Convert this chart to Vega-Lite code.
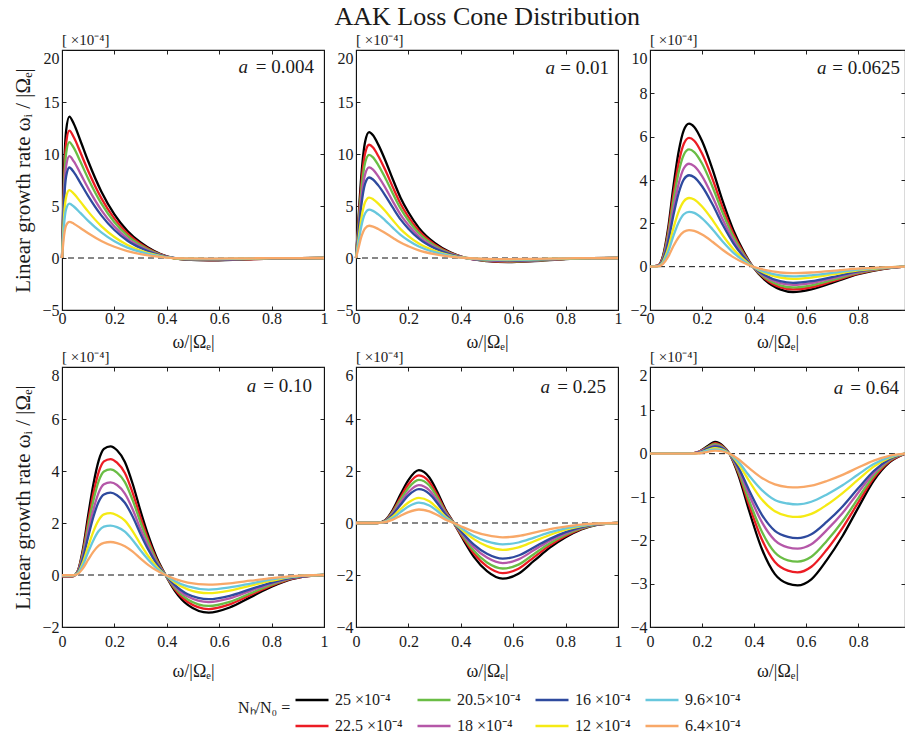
{
"$schema":"https://vega.github.io/schema/vega-lite/v6.json",
"background":"white",
"padding":{"left":12,"top":3,"right":0,"bottom":8},
"config":{
 "font":"Liberation Serif",
 "view":{"stroke":"#111","strokeWidth":1.1},
 "axis":{"grid":false,"labelFont":"Liberation Serif","labelFontSize":16,"labelColor":"#1a1a1a","titleFont":"Liberation Serif","titleFontSize":18,"titleFontWeight":"normal","titleColor":"#1a1a1a","tickColor":"#222","tickSize":-4,"domainColor":"#111","labelPadding":7,"labelFlush":false},
 "axisX":{"format":"~g"},
 "axisY":{"format":"d","titleFontSize":21},
 "line":{"strokeWidth":2.3,"interpolate":"monotone"},
 "text":{"font":"Liberation Serif","color":"#1a1a1a"}
},
"title":{"text":"AAK Loss Cone Distribution","fontSize":26,"fontWeight":"normal","font":"Liberation Serif","anchor":"middle","frame":"bounds","offset":2,"dx":26,"color":"#1a1a1a"},
"datasets":{
"p1":[
{"n":"25","x":0,"y":0},{"n":"25","x":0.008,"y":8.5},{"n":"25","x":0.016,"y":12.3},{"n":"25","x":0.028,"y":13.6},{"n":"25","x":0.045,"y":12.9},{"n":"25","x":0.07,"y":11.3},{"n":"25","x":0.1,"y":9.3},{"n":"25","x":0.15,"y":6.4},{"n":"25","x":0.2,"y":4.2},{"n":"25","x":0.25,"y":2.6},{"n":"25","x":0.3,"y":1.5},{"n":"25","x":0.35,"y":0.7},{"n":"25","x":0.4,"y":0.15},{"n":"25","x":0.47,"y":-0.15},{"n":"25","x":0.56,"y":-0.22},{"n":"25","x":0.68,"y":-0.15},{"n":"25","x":0.8,"y":-0.05},{"n":"25","x":1,"y":0},
{"n":"22.5","x":0,"y":0},{"n":"22.5","x":0.008,"y":7.65},{"n":"22.5","x":0.016,"y":11.07},{"n":"22.5","x":0.028,"y":12.24},{"n":"22.5","x":0.045,"y":11.61},{"n":"22.5","x":0.07,"y":10.17},{"n":"22.5","x":0.1,"y":8.37},{"n":"22.5","x":0.15,"y":5.76},{"n":"22.5","x":0.2,"y":3.78},{"n":"22.5","x":0.25,"y":2.34},{"n":"22.5","x":0.3,"y":1.35},{"n":"22.5","x":0.35,"y":0.63},{"n":"22.5","x":0.4,"y":0.14},{"n":"22.5","x":0.47,"y":-0.14},{"n":"22.5","x":0.56,"y":-0.2},{"n":"22.5","x":0.68,"y":-0.14},{"n":"22.5","x":0.8,"y":-0.05},{"n":"22.5","x":1,"y":0},
{"n":"20.5","x":0,"y":0},{"n":"20.5","x":0.008,"y":6.97},{"n":"20.5","x":0.016,"y":10.09},{"n":"20.5","x":0.028,"y":11.15},{"n":"20.5","x":0.045,"y":10.58},{"n":"20.5","x":0.07,"y":9.27},{"n":"20.5","x":0.1,"y":7.63},{"n":"20.5","x":0.15,"y":5.25},{"n":"20.5","x":0.2,"y":3.44},{"n":"20.5","x":0.25,"y":2.13},{"n":"20.5","x":0.3,"y":1.23},{"n":"20.5","x":0.35,"y":0.57},{"n":"20.5","x":0.4,"y":0.12},{"n":"20.5","x":0.47,"y":-0.12},{"n":"20.5","x":0.56,"y":-0.18},{"n":"20.5","x":0.68,"y":-0.12},{"n":"20.5","x":0.8,"y":-0.04},{"n":"20.5","x":1,"y":0},
{"n":"18","x":0,"y":0},{"n":"18","x":0.008,"y":6.12},{"n":"18","x":0.016,"y":8.86},{"n":"18","x":0.028,"y":9.79},{"n":"18","x":0.045,"y":9.29},{"n":"18","x":0.07,"y":8.14},{"n":"18","x":0.1,"y":6.7},{"n":"18","x":0.15,"y":4.61},{"n":"18","x":0.2,"y":3.02},{"n":"18","x":0.25,"y":1.87},{"n":"18","x":0.3,"y":1.08},{"n":"18","x":0.35,"y":0.5},{"n":"18","x":0.4,"y":0.11},{"n":"18","x":0.47,"y":-0.11},{"n":"18","x":0.56,"y":-0.16},{"n":"18","x":0.68,"y":-0.11},{"n":"18","x":0.8,"y":-0.04},{"n":"18","x":1,"y":0},
{"n":"16","x":0,"y":0},{"n":"16","x":0.008,"y":5.44},{"n":"16","x":0.016,"y":7.87},{"n":"16","x":0.028,"y":8.7},{"n":"16","x":0.045,"y":8.26},{"n":"16","x":0.07,"y":7.23},{"n":"16","x":0.1,"y":5.95},{"n":"16","x":0.15,"y":4.1},{"n":"16","x":0.2,"y":2.69},{"n":"16","x":0.25,"y":1.66},{"n":"16","x":0.3,"y":0.96},{"n":"16","x":0.35,"y":0.45},{"n":"16","x":0.4,"y":0.1},{"n":"16","x":0.47,"y":-0.1},{"n":"16","x":0.56,"y":-0.14},{"n":"16","x":0.68,"y":-0.1},{"n":"16","x":0.8,"y":-0.03},{"n":"16","x":1,"y":0},
{"n":"12","x":0,"y":0},{"n":"12","x":0.008,"y":4.08},{"n":"12","x":0.016,"y":5.9},{"n":"12","x":0.028,"y":6.53},{"n":"12","x":0.045,"y":6.19},{"n":"12","x":0.07,"y":5.42},{"n":"12","x":0.1,"y":4.46},{"n":"12","x":0.15,"y":3.07},{"n":"12","x":0.2,"y":2.02},{"n":"12","x":0.25,"y":1.25},{"n":"12","x":0.3,"y":0.72},{"n":"12","x":0.35,"y":0.34},{"n":"12","x":0.4,"y":0.07},{"n":"12","x":0.47,"y":-0.07},{"n":"12","x":0.56,"y":-0.11},{"n":"12","x":0.68,"y":-0.07},{"n":"12","x":0.8,"y":-0.02},{"n":"12","x":1,"y":0},
{"n":"9.6","x":0,"y":0},{"n":"9.6","x":0.008,"y":3.26},{"n":"9.6","x":0.016,"y":4.72},{"n":"9.6","x":0.028,"y":5.22},{"n":"9.6","x":0.045,"y":4.95},{"n":"9.6","x":0.07,"y":4.34},{"n":"9.6","x":0.1,"y":3.57},{"n":"9.6","x":0.15,"y":2.46},{"n":"9.6","x":0.2,"y":1.61},{"n":"9.6","x":0.25,"y":1},{"n":"9.6","x":0.3,"y":0.58},{"n":"9.6","x":0.35,"y":0.27},{"n":"9.6","x":0.4,"y":0.06},{"n":"9.6","x":0.47,"y":-0.06},{"n":"9.6","x":0.56,"y":-0.08},{"n":"9.6","x":0.68,"y":-0.06},{"n":"9.6","x":0.8,"y":-0.02},{"n":"9.6","x":1,"y":0},
{"n":"6.4","x":0,"y":0},{"n":"6.4","x":0.008,"y":2.18},{"n":"6.4","x":0.016,"y":3.15},{"n":"6.4","x":0.028,"y":3.48},{"n":"6.4","x":0.045,"y":3.3},{"n":"6.4","x":0.07,"y":2.89},{"n":"6.4","x":0.1,"y":2.38},{"n":"6.4","x":0.15,"y":1.64},{"n":"6.4","x":0.2,"y":1.08},{"n":"6.4","x":0.25,"y":0.67},{"n":"6.4","x":0.3,"y":0.38},{"n":"6.4","x":0.35,"y":0.18},{"n":"6.4","x":0.4,"y":0.04},{"n":"6.4","x":0.47,"y":-0.04},{"n":"6.4","x":0.56,"y":-0.06},{"n":"6.4","x":0.68,"y":-0.04},{"n":"6.4","x":0.8,"y":-0.01},{"n":"6.4","x":1,"y":0}
],
"p2":[
{"n":"25","x":0,"y":0},{"n":"25","x":0.01,"y":4},{"n":"25","x":0.02,"y":7.8},{"n":"25","x":0.035,"y":11.2},{"n":"25","x":0.05,"y":12.1},{"n":"25","x":0.065,"y":11.8},{"n":"25","x":0.085,"y":10.9},{"n":"25","x":0.11,"y":9.5},{"n":"25","x":0.14,"y":7.6},{"n":"25","x":0.17,"y":5.8},{"n":"25","x":0.2,"y":4.4},{"n":"25","x":0.24,"y":2.9},{"n":"25","x":0.3,"y":1.45},{"n":"25","x":0.36,"y":0.55},{"n":"25","x":0.42,"y":0},{"n":"25","x":0.5,"y":-0.3},{"n":"25","x":0.58,"y":-0.4},{"n":"25","x":0.68,"y":-0.3},{"n":"25","x":0.8,"y":-0.1},{"n":"25","x":0.9,"y":-0.02},{"n":"25","x":1,"y":0},
{"n":"22.5","x":0,"y":0},{"n":"22.5","x":0.01,"y":3.6},{"n":"22.5","x":0.02,"y":7.02},{"n":"22.5","x":0.035,"y":10.08},{"n":"22.5","x":0.05,"y":10.89},{"n":"22.5","x":0.065,"y":10.62},{"n":"22.5","x":0.085,"y":9.81},{"n":"22.5","x":0.11,"y":8.55},{"n":"22.5","x":0.14,"y":6.84},{"n":"22.5","x":0.17,"y":5.22},{"n":"22.5","x":0.2,"y":3.96},{"n":"22.5","x":0.24,"y":2.61},{"n":"22.5","x":0.3,"y":1.31},{"n":"22.5","x":0.36,"y":0.5},{"n":"22.5","x":0.42,"y":0},{"n":"22.5","x":0.5,"y":-0.27},{"n":"22.5","x":0.58,"y":-0.36},{"n":"22.5","x":0.68,"y":-0.27},{"n":"22.5","x":0.8,"y":-0.09},{"n":"22.5","x":0.9,"y":-0.02},{"n":"22.5","x":1,"y":0},
{"n":"20.5","x":0,"y":0},{"n":"20.5","x":0.01,"y":3.28},{"n":"20.5","x":0.02,"y":6.4},{"n":"20.5","x":0.035,"y":9.18},{"n":"20.5","x":0.05,"y":9.92},{"n":"20.5","x":0.065,"y":9.68},{"n":"20.5","x":0.085,"y":8.94},{"n":"20.5","x":0.11,"y":7.79},{"n":"20.5","x":0.14,"y":6.23},{"n":"20.5","x":0.17,"y":4.76},{"n":"20.5","x":0.2,"y":3.61},{"n":"20.5","x":0.24,"y":2.38},{"n":"20.5","x":0.3,"y":1.19},{"n":"20.5","x":0.36,"y":0.45},{"n":"20.5","x":0.42,"y":0},{"n":"20.5","x":0.5,"y":-0.25},{"n":"20.5","x":0.58,"y":-0.33},{"n":"20.5","x":0.68,"y":-0.25},{"n":"20.5","x":0.8,"y":-0.08},{"n":"20.5","x":0.9,"y":-0.02},{"n":"20.5","x":1,"y":0},
{"n":"18","x":0,"y":0},{"n":"18","x":0.01,"y":2.88},{"n":"18","x":0.02,"y":5.62},{"n":"18","x":0.035,"y":8.06},{"n":"18","x":0.05,"y":8.71},{"n":"18","x":0.065,"y":8.5},{"n":"18","x":0.085,"y":7.85},{"n":"18","x":0.11,"y":6.84},{"n":"18","x":0.14,"y":5.47},{"n":"18","x":0.17,"y":4.18},{"n":"18","x":0.2,"y":3.17},{"n":"18","x":0.24,"y":2.09},{"n":"18","x":0.3,"y":1.04},{"n":"18","x":0.36,"y":0.4},{"n":"18","x":0.42,"y":0},{"n":"18","x":0.5,"y":-0.22},{"n":"18","x":0.58,"y":-0.29},{"n":"18","x":0.68,"y":-0.22},{"n":"18","x":0.8,"y":-0.07},{"n":"18","x":0.9,"y":-0.01},{"n":"18","x":1,"y":0},
{"n":"16","x":0,"y":0},{"n":"16","x":0.01,"y":2.56},{"n":"16","x":0.02,"y":4.99},{"n":"16","x":0.035,"y":7.17},{"n":"16","x":0.05,"y":7.74},{"n":"16","x":0.065,"y":7.55},{"n":"16","x":0.085,"y":6.98},{"n":"16","x":0.11,"y":6.08},{"n":"16","x":0.14,"y":4.86},{"n":"16","x":0.17,"y":3.71},{"n":"16","x":0.2,"y":2.82},{"n":"16","x":0.24,"y":1.86},{"n":"16","x":0.3,"y":0.93},{"n":"16","x":0.36,"y":0.35},{"n":"16","x":0.42,"y":0},{"n":"16","x":0.5,"y":-0.19},{"n":"16","x":0.58,"y":-0.26},{"n":"16","x":0.68,"y":-0.19},{"n":"16","x":0.8,"y":-0.06},{"n":"16","x":0.9,"y":-0.01},{"n":"16","x":1,"y":0},
{"n":"12","x":0,"y":0},{"n":"12","x":0.01,"y":1.92},{"n":"12","x":0.02,"y":3.74},{"n":"12","x":0.035,"y":5.38},{"n":"12","x":0.05,"y":5.81},{"n":"12","x":0.065,"y":5.66},{"n":"12","x":0.085,"y":5.23},{"n":"12","x":0.11,"y":4.56},{"n":"12","x":0.14,"y":3.65},{"n":"12","x":0.17,"y":2.78},{"n":"12","x":0.2,"y":2.11},{"n":"12","x":0.24,"y":1.39},{"n":"12","x":0.3,"y":0.7},{"n":"12","x":0.36,"y":0.26},{"n":"12","x":0.42,"y":0},{"n":"12","x":0.5,"y":-0.14},{"n":"12","x":0.58,"y":-0.19},{"n":"12","x":0.68,"y":-0.14},{"n":"12","x":0.8,"y":-0.05},{"n":"12","x":0.9,"y":-0.01},{"n":"12","x":1,"y":0},
{"n":"9.6","x":0,"y":0},{"n":"9.6","x":0.01,"y":1.54},{"n":"9.6","x":0.02,"y":3},{"n":"9.6","x":0.035,"y":4.3},{"n":"9.6","x":0.05,"y":4.65},{"n":"9.6","x":0.065,"y":4.53},{"n":"9.6","x":0.085,"y":4.19},{"n":"9.6","x":0.11,"y":3.65},{"n":"9.6","x":0.14,"y":2.92},{"n":"9.6","x":0.17,"y":2.23},{"n":"9.6","x":0.2,"y":1.69},{"n":"9.6","x":0.24,"y":1.11},{"n":"9.6","x":0.3,"y":0.56},{"n":"9.6","x":0.36,"y":0.21},{"n":"9.6","x":0.42,"y":0},{"n":"9.6","x":0.5,"y":-0.12},{"n":"9.6","x":0.58,"y":-0.15},{"n":"9.6","x":0.68,"y":-0.12},{"n":"9.6","x":0.8,"y":-0.04},{"n":"9.6","x":0.9,"y":-0.01},{"n":"9.6","x":1,"y":0},
{"n":"6.4","x":0,"y":0},{"n":"6.4","x":0.01,"y":1.02},{"n":"6.4","x":0.02,"y":2},{"n":"6.4","x":0.035,"y":2.87},{"n":"6.4","x":0.05,"y":3.1},{"n":"6.4","x":0.065,"y":3.02},{"n":"6.4","x":0.085,"y":2.79},{"n":"6.4","x":0.11,"y":2.43},{"n":"6.4","x":0.14,"y":1.95},{"n":"6.4","x":0.17,"y":1.48},{"n":"6.4","x":0.2,"y":1.13},{"n":"6.4","x":0.24,"y":0.74},{"n":"6.4","x":0.3,"y":0.37},{"n":"6.4","x":0.36,"y":0.14},{"n":"6.4","x":0.42,"y":0},{"n":"6.4","x":0.5,"y":-0.08},{"n":"6.4","x":0.58,"y":-0.1},{"n":"6.4","x":0.68,"y":-0.08},{"n":"6.4","x":0.8,"y":-0.03},{"n":"6.4","x":0.9,"y":-0.01},{"n":"6.4","x":1,"y":0}
],
"p3":[
{"n":"25","x":0,"y":0},{"n":"25","x":0.03,"y":0.05},{"n":"25","x":0.05,"y":0.5},{"n":"25","x":0.07,"y":1.8},{"n":"25","x":0.09,"y":3.7},{"n":"25","x":0.11,"y":5.3},{"n":"25","x":0.13,"y":6.3},{"n":"25","x":0.15,"y":6.6},{"n":"25","x":0.17,"y":6.45},{"n":"25","x":0.2,"y":5.8},{"n":"25","x":0.24,"y":4.5},{"n":"25","x":0.28,"y":3},{"n":"25","x":0.32,"y":1.7},{"n":"25","x":0.36,"y":0.7},{"n":"25","x":0.395,"y":0},{"n":"25","x":0.44,"y":-0.6},{"n":"25","x":0.5,"y":-1.05},{"n":"25","x":0.55,"y":-1.17},{"n":"25","x":0.62,"y":-1.05},{"n":"25","x":0.7,"y":-0.75},{"n":"25","x":0.8,"y":-0.35},{"n":"25","x":0.9,"y":-0.1},{"n":"25","x":0.98,"y":0},
{"n":"22.5","x":0,"y":0},{"n":"22.5","x":0.03,"y":0.05},{"n":"22.5","x":0.05,"y":0.45},{"n":"22.5","x":0.07,"y":1.62},{"n":"22.5","x":0.09,"y":3.33},{"n":"22.5","x":0.11,"y":4.77},{"n":"22.5","x":0.13,"y":5.67},{"n":"22.5","x":0.15,"y":5.94},{"n":"22.5","x":0.17,"y":5.81},{"n":"22.5","x":0.2,"y":5.22},{"n":"22.5","x":0.24,"y":4.05},{"n":"22.5","x":0.28,"y":2.7},{"n":"22.5","x":0.32,"y":1.53},{"n":"22.5","x":0.36,"y":0.63},{"n":"22.5","x":0.395,"y":0},{"n":"22.5","x":0.44,"y":-0.54},{"n":"22.5","x":0.5,"y":-0.95},{"n":"22.5","x":0.55,"y":-1.05},{"n":"22.5","x":0.62,"y":-0.95},{"n":"22.5","x":0.7,"y":-0.68},{"n":"22.5","x":0.8,"y":-0.32},{"n":"22.5","x":0.9,"y":-0.09},{"n":"22.5","x":0.98,"y":0},
{"n":"20.5","x":0,"y":0},{"n":"20.5","x":0.03,"y":0.04},{"n":"20.5","x":0.05,"y":0.41},{"n":"20.5","x":0.07,"y":1.48},{"n":"20.5","x":0.09,"y":3.03},{"n":"20.5","x":0.11,"y":4.35},{"n":"20.5","x":0.13,"y":5.17},{"n":"20.5","x":0.15,"y":5.41},{"n":"20.5","x":0.17,"y":5.29},{"n":"20.5","x":0.2,"y":4.76},{"n":"20.5","x":0.24,"y":3.69},{"n":"20.5","x":0.28,"y":2.46},{"n":"20.5","x":0.32,"y":1.39},{"n":"20.5","x":0.36,"y":0.57},{"n":"20.5","x":0.395,"y":0},{"n":"20.5","x":0.44,"y":-0.49},{"n":"20.5","x":0.5,"y":-0.86},{"n":"20.5","x":0.55,"y":-0.96},{"n":"20.5","x":0.62,"y":-0.86},{"n":"20.5","x":0.7,"y":-0.62},{"n":"20.5","x":0.8,"y":-0.29},{"n":"20.5","x":0.9,"y":-0.08},{"n":"20.5","x":0.98,"y":0},
{"n":"18","x":0,"y":0},{"n":"18","x":0.03,"y":0.04},{"n":"18","x":0.05,"y":0.36},{"n":"18","x":0.07,"y":1.3},{"n":"18","x":0.09,"y":2.66},{"n":"18","x":0.11,"y":3.82},{"n":"18","x":0.13,"y":4.54},{"n":"18","x":0.15,"y":4.75},{"n":"18","x":0.17,"y":4.64},{"n":"18","x":0.2,"y":4.18},{"n":"18","x":0.24,"y":3.24},{"n":"18","x":0.28,"y":2.16},{"n":"18","x":0.32,"y":1.22},{"n":"18","x":0.36,"y":0.5},{"n":"18","x":0.395,"y":0},{"n":"18","x":0.44,"y":-0.43},{"n":"18","x":0.5,"y":-0.76},{"n":"18","x":0.55,"y":-0.84},{"n":"18","x":0.62,"y":-0.76},{"n":"18","x":0.7,"y":-0.54},{"n":"18","x":0.8,"y":-0.25},{"n":"18","x":0.9,"y":-0.07},{"n":"18","x":0.98,"y":0},
{"n":"16","x":0,"y":0},{"n":"16","x":0.03,"y":0.03},{"n":"16","x":0.05,"y":0.32},{"n":"16","x":0.07,"y":1.15},{"n":"16","x":0.09,"y":2.37},{"n":"16","x":0.11,"y":3.39},{"n":"16","x":0.13,"y":4.03},{"n":"16","x":0.15,"y":4.22},{"n":"16","x":0.17,"y":4.13},{"n":"16","x":0.2,"y":3.71},{"n":"16","x":0.24,"y":2.88},{"n":"16","x":0.28,"y":1.92},{"n":"16","x":0.32,"y":1.09},{"n":"16","x":0.36,"y":0.45},{"n":"16","x":0.395,"y":0},{"n":"16","x":0.44,"y":-0.38},{"n":"16","x":0.5,"y":-0.67},{"n":"16","x":0.55,"y":-0.75},{"n":"16","x":0.62,"y":-0.67},{"n":"16","x":0.7,"y":-0.48},{"n":"16","x":0.8,"y":-0.22},{"n":"16","x":0.9,"y":-0.06},{"n":"16","x":0.98,"y":0},
{"n":"12","x":0,"y":0},{"n":"12","x":0.03,"y":0.02},{"n":"12","x":0.05,"y":0.24},{"n":"12","x":0.07,"y":0.86},{"n":"12","x":0.09,"y":1.78},{"n":"12","x":0.11,"y":2.54},{"n":"12","x":0.13,"y":3.02},{"n":"12","x":0.15,"y":3.17},{"n":"12","x":0.17,"y":3.1},{"n":"12","x":0.2,"y":2.78},{"n":"12","x":0.24,"y":2.16},{"n":"12","x":0.28,"y":1.44},{"n":"12","x":0.32,"y":0.82},{"n":"12","x":0.36,"y":0.34},{"n":"12","x":0.395,"y":0},{"n":"12","x":0.44,"y":-0.29},{"n":"12","x":0.5,"y":-0.5},{"n":"12","x":0.55,"y":-0.56},{"n":"12","x":0.62,"y":-0.5},{"n":"12","x":0.7,"y":-0.36},{"n":"12","x":0.8,"y":-0.17},{"n":"12","x":0.9,"y":-0.05},{"n":"12","x":0.98,"y":0},
{"n":"9.6","x":0,"y":0},{"n":"9.6","x":0.03,"y":0.02},{"n":"9.6","x":0.05,"y":0.19},{"n":"9.6","x":0.07,"y":0.69},{"n":"9.6","x":0.09,"y":1.42},{"n":"9.6","x":0.11,"y":2.04},{"n":"9.6","x":0.13,"y":2.42},{"n":"9.6","x":0.15,"y":2.53},{"n":"9.6","x":0.17,"y":2.48},{"n":"9.6","x":0.2,"y":2.23},{"n":"9.6","x":0.24,"y":1.73},{"n":"9.6","x":0.28,"y":1.15},{"n":"9.6","x":0.32,"y":0.65},{"n":"9.6","x":0.36,"y":0.27},{"n":"9.6","x":0.395,"y":0},{"n":"9.6","x":0.44,"y":-0.23},{"n":"9.6","x":0.5,"y":-0.4},{"n":"9.6","x":0.55,"y":-0.45},{"n":"9.6","x":0.62,"y":-0.4},{"n":"9.6","x":0.7,"y":-0.29},{"n":"9.6","x":0.8,"y":-0.13},{"n":"9.6","x":0.9,"y":-0.04},{"n":"9.6","x":0.98,"y":0},
{"n":"6.4","x":0,"y":0},{"n":"6.4","x":0.03,"y":0.01},{"n":"6.4","x":0.05,"y":0.13},{"n":"6.4","x":0.07,"y":0.46},{"n":"6.4","x":0.09,"y":0.95},{"n":"6.4","x":0.11,"y":1.36},{"n":"6.4","x":0.13,"y":1.61},{"n":"6.4","x":0.15,"y":1.69},{"n":"6.4","x":0.17,"y":1.65},{"n":"6.4","x":0.2,"y":1.48},{"n":"6.4","x":0.24,"y":1.15},{"n":"6.4","x":0.28,"y":0.77},{"n":"6.4","x":0.32,"y":0.44},{"n":"6.4","x":0.36,"y":0.18},{"n":"6.4","x":0.395,"y":0},{"n":"6.4","x":0.44,"y":-0.15},{"n":"6.4","x":0.5,"y":-0.27},{"n":"6.4","x":0.55,"y":-0.3},{"n":"6.4","x":0.62,"y":-0.27},{"n":"6.4","x":0.7,"y":-0.19},{"n":"6.4","x":0.8,"y":-0.09},{"n":"6.4","x":0.9,"y":-0.03},{"n":"6.4","x":0.98,"y":0}
],
"p4":[
{"n":"25","x":0,"y":-0.05},{"n":"25","x":0.04,"y":-0.05},{"n":"25","x":0.06,"y":0.15},{"n":"25","x":0.08,"y":1},{"n":"25","x":0.1,"y":2.3},{"n":"25","x":0.12,"y":3.5},{"n":"25","x":0.14,"y":4.4},{"n":"25","x":0.16,"y":4.85},{"n":"25","x":0.185,"y":4.95},{"n":"25","x":0.21,"y":4.8},{"n":"25","x":0.24,"y":4.35},{"n":"25","x":0.27,"y":3.5},{"n":"25","x":0.3,"y":2.45},{"n":"25","x":0.33,"y":1.5},{"n":"25","x":0.36,"y":0.7},{"n":"25","x":0.395,"y":0},{"n":"25","x":0.43,"y":-0.6},{"n":"25","x":0.48,"y":-1.15},{"n":"25","x":0.56,"y":-1.45},{"n":"25","x":0.64,"y":-1.25},{"n":"25","x":0.72,"y":-0.85},{"n":"25","x":0.8,"y":-0.45},{"n":"25","x":0.88,"y":-0.15},{"n":"25","x":0.95,"y":-0.03},{"n":"25","x":1,"y":0},
{"n":"22.5","x":0,"y":-0.05},{"n":"22.5","x":0.04,"y":-0.05},{"n":"22.5","x":0.06,"y":0.14},{"n":"22.5","x":0.08,"y":0.9},{"n":"22.5","x":0.1,"y":2.07},{"n":"22.5","x":0.12,"y":3.15},{"n":"22.5","x":0.14,"y":3.96},{"n":"22.5","x":0.16,"y":4.37},{"n":"22.5","x":0.185,"y":4.46},{"n":"22.5","x":0.21,"y":4.32},{"n":"22.5","x":0.24,"y":3.92},{"n":"22.5","x":0.27,"y":3.15},{"n":"22.5","x":0.3,"y":2.21},{"n":"22.5","x":0.33,"y":1.35},{"n":"22.5","x":0.36,"y":0.63},{"n":"22.5","x":0.395,"y":0},{"n":"22.5","x":0.43,"y":-0.54},{"n":"22.5","x":0.48,"y":-1.04},{"n":"22.5","x":0.56,"y":-1.31},{"n":"22.5","x":0.64,"y":-1.13},{"n":"22.5","x":0.72,"y":-0.77},{"n":"22.5","x":0.8,"y":-0.41},{"n":"22.5","x":0.88,"y":-0.14},{"n":"22.5","x":0.95,"y":-0.03},{"n":"22.5","x":1,"y":0},
{"n":"20.5","x":0,"y":-0.04},{"n":"20.5","x":0.04,"y":-0.04},{"n":"20.5","x":0.06,"y":0.12},{"n":"20.5","x":0.08,"y":0.82},{"n":"20.5","x":0.1,"y":1.89},{"n":"20.5","x":0.12,"y":2.87},{"n":"20.5","x":0.14,"y":3.61},{"n":"20.5","x":0.16,"y":3.98},{"n":"20.5","x":0.185,"y":4.06},{"n":"20.5","x":0.21,"y":3.94},{"n":"20.5","x":0.24,"y":3.57},{"n":"20.5","x":0.27,"y":2.87},{"n":"20.5","x":0.3,"y":2.01},{"n":"20.5","x":0.33,"y":1.23},{"n":"20.5","x":0.36,"y":0.57},{"n":"20.5","x":0.395,"y":0},{"n":"20.5","x":0.43,"y":-0.49},{"n":"20.5","x":0.48,"y":-0.94},{"n":"20.5","x":0.56,"y":-1.19},{"n":"20.5","x":0.64,"y":-1.03},{"n":"20.5","x":0.72,"y":-0.7},{"n":"20.5","x":0.8,"y":-0.37},{"n":"20.5","x":0.88,"y":-0.12},{"n":"20.5","x":0.95,"y":-0.02},{"n":"20.5","x":1,"y":0},
{"n":"18","x":0,"y":-0.04},{"n":"18","x":0.04,"y":-0.04},{"n":"18","x":0.06,"y":0.11},{"n":"18","x":0.08,"y":0.72},{"n":"18","x":0.1,"y":1.66},{"n":"18","x":0.12,"y":2.52},{"n":"18","x":0.14,"y":3.17},{"n":"18","x":0.16,"y":3.49},{"n":"18","x":0.185,"y":3.56},{"n":"18","x":0.21,"y":3.46},{"n":"18","x":0.24,"y":3.13},{"n":"18","x":0.27,"y":2.52},{"n":"18","x":0.3,"y":1.76},{"n":"18","x":0.33,"y":1.08},{"n":"18","x":0.36,"y":0.5},{"n":"18","x":0.395,"y":0},{"n":"18","x":0.43,"y":-0.43},{"n":"18","x":0.48,"y":-0.83},{"n":"18","x":0.56,"y":-1.04},{"n":"18","x":0.64,"y":-0.9},{"n":"18","x":0.72,"y":-0.61},{"n":"18","x":0.8,"y":-0.32},{"n":"18","x":0.88,"y":-0.11},{"n":"18","x":0.95,"y":-0.02},{"n":"18","x":1,"y":0},
{"n":"16","x":0,"y":-0.03},{"n":"16","x":0.04,"y":-0.03},{"n":"16","x":0.06,"y":0.1},{"n":"16","x":0.08,"y":0.64},{"n":"16","x":0.1,"y":1.47},{"n":"16","x":0.12,"y":2.24},{"n":"16","x":0.14,"y":2.82},{"n":"16","x":0.16,"y":3.1},{"n":"16","x":0.185,"y":3.17},{"n":"16","x":0.21,"y":3.07},{"n":"16","x":0.24,"y":2.78},{"n":"16","x":0.27,"y":2.24},{"n":"16","x":0.3,"y":1.57},{"n":"16","x":0.33,"y":0.96},{"n":"16","x":0.36,"y":0.45},{"n":"16","x":0.395,"y":0},{"n":"16","x":0.43,"y":-0.38},{"n":"16","x":0.48,"y":-0.74},{"n":"16","x":0.56,"y":-0.93},{"n":"16","x":0.64,"y":-0.8},{"n":"16","x":0.72,"y":-0.54},{"n":"16","x":0.8,"y":-0.29},{"n":"16","x":0.88,"y":-0.1},{"n":"16","x":0.95,"y":-0.02},{"n":"16","x":1,"y":0},
{"n":"12","x":0,"y":-0.02},{"n":"12","x":0.04,"y":-0.02},{"n":"12","x":0.06,"y":0.07},{"n":"12","x":0.08,"y":0.48},{"n":"12","x":0.1,"y":1.1},{"n":"12","x":0.12,"y":1.68},{"n":"12","x":0.14,"y":2.11},{"n":"12","x":0.16,"y":2.33},{"n":"12","x":0.185,"y":2.38},{"n":"12","x":0.21,"y":2.3},{"n":"12","x":0.24,"y":2.09},{"n":"12","x":0.27,"y":1.68},{"n":"12","x":0.3,"y":1.18},{"n":"12","x":0.33,"y":0.72},{"n":"12","x":0.36,"y":0.34},{"n":"12","x":0.395,"y":0},{"n":"12","x":0.43,"y":-0.29},{"n":"12","x":0.48,"y":-0.55},{"n":"12","x":0.56,"y":-0.7},{"n":"12","x":0.64,"y":-0.6},{"n":"12","x":0.72,"y":-0.41},{"n":"12","x":0.8,"y":-0.22},{"n":"12","x":0.88,"y":-0.07},{"n":"12","x":0.95,"y":-0.01},{"n":"12","x":1,"y":0},
{"n":"9.6","x":0,"y":-0.02},{"n":"9.6","x":0.04,"y":-0.02},{"n":"9.6","x":0.06,"y":0.06},{"n":"9.6","x":0.08,"y":0.38},{"n":"9.6","x":0.1,"y":0.88},{"n":"9.6","x":0.12,"y":1.34},{"n":"9.6","x":0.14,"y":1.69},{"n":"9.6","x":0.16,"y":1.86},{"n":"9.6","x":0.185,"y":1.9},{"n":"9.6","x":0.21,"y":1.84},{"n":"9.6","x":0.24,"y":1.67},{"n":"9.6","x":0.27,"y":1.34},{"n":"9.6","x":0.3,"y":0.94},{"n":"9.6","x":0.33,"y":0.58},{"n":"9.6","x":0.36,"y":0.27},{"n":"9.6","x":0.395,"y":0},{"n":"9.6","x":0.43,"y":-0.23},{"n":"9.6","x":0.48,"y":-0.44},{"n":"9.6","x":0.56,"y":-0.56},{"n":"9.6","x":0.64,"y":-0.48},{"n":"9.6","x":0.72,"y":-0.33},{"n":"9.6","x":0.8,"y":-0.17},{"n":"9.6","x":0.88,"y":-0.06},{"n":"9.6","x":0.95,"y":-0.01},{"n":"9.6","x":1,"y":0},
{"n":"6.4","x":0,"y":-0.01},{"n":"6.4","x":0.04,"y":-0.01},{"n":"6.4","x":0.06,"y":0.04},{"n":"6.4","x":0.08,"y":0.26},{"n":"6.4","x":0.1,"y":0.59},{"n":"6.4","x":0.12,"y":0.9},{"n":"6.4","x":0.14,"y":1.13},{"n":"6.4","x":0.16,"y":1.24},{"n":"6.4","x":0.185,"y":1.27},{"n":"6.4","x":0.21,"y":1.23},{"n":"6.4","x":0.24,"y":1.11},{"n":"6.4","x":0.27,"y":0.9},{"n":"6.4","x":0.3,"y":0.63},{"n":"6.4","x":0.33,"y":0.38},{"n":"6.4","x":0.36,"y":0.18},{"n":"6.4","x":0.395,"y":0},{"n":"6.4","x":0.43,"y":-0.15},{"n":"6.4","x":0.48,"y":-0.29},{"n":"6.4","x":0.56,"y":-0.37},{"n":"6.4","x":0.64,"y":-0.32},{"n":"6.4","x":0.72,"y":-0.22},{"n":"6.4","x":0.8,"y":-0.12},{"n":"6.4","x":0.88,"y":-0.04},{"n":"6.4","x":0.95,"y":-0.01},{"n":"6.4","x":1,"y":0}
],
"p5":[
{"n":"25","x":0,"y":0},{"n":"25","x":0.08,"y":0},{"n":"25","x":0.11,"y":0.1},{"n":"25","x":0.14,"y":0.5},{"n":"25","x":0.17,"y":1.1},{"n":"25","x":0.2,"y":1.65},{"n":"25","x":0.24,"y":2.03},{"n":"25","x":0.28,"y":1.75},{"n":"25","x":0.31,"y":1.2},{"n":"25","x":0.34,"y":0.55},{"n":"25","x":0.373,"y":0},{"n":"25","x":0.41,"y":-0.65},{"n":"25","x":0.45,"y":-1.3},{"n":"25","x":0.5,"y":-1.85},{"n":"25","x":0.56,"y":-2.14},{"n":"25","x":0.62,"y":-1.95},{"n":"25","x":0.68,"y":-1.45},{"n":"25","x":0.74,"y":-0.95},{"n":"25","x":0.8,"y":-0.55},{"n":"25","x":0.86,"y":-0.25},{"n":"25","x":0.92,"y":-0.07},{"n":"25","x":1,"y":0},
{"n":"22.5","x":0,"y":0},{"n":"22.5","x":0.08,"y":0},{"n":"22.5","x":0.11,"y":0.09},{"n":"22.5","x":0.14,"y":0.45},{"n":"22.5","x":0.17,"y":0.99},{"n":"22.5","x":0.2,"y":1.49},{"n":"22.5","x":0.24,"y":1.83},{"n":"22.5","x":0.28,"y":1.58},{"n":"22.5","x":0.31,"y":1.08},{"n":"22.5","x":0.34,"y":0.5},{"n":"22.5","x":0.373,"y":0},{"n":"22.5","x":0.41,"y":-0.59},{"n":"22.5","x":0.45,"y":-1.17},{"n":"22.5","x":0.5,"y":-1.67},{"n":"22.5","x":0.56,"y":-1.93},{"n":"22.5","x":0.62,"y":-1.76},{"n":"22.5","x":0.68,"y":-1.31},{"n":"22.5","x":0.74,"y":-0.86},{"n":"22.5","x":0.8,"y":-0.5},{"n":"22.5","x":0.86,"y":-0.23},{"n":"22.5","x":0.92,"y":-0.06},{"n":"22.5","x":1,"y":0},
{"n":"20.5","x":0,"y":0},{"n":"20.5","x":0.08,"y":0},{"n":"20.5","x":0.11,"y":0.08},{"n":"20.5","x":0.14,"y":0.41},{"n":"20.5","x":0.17,"y":0.9},{"n":"20.5","x":0.2,"y":1.35},{"n":"20.5","x":0.24,"y":1.66},{"n":"20.5","x":0.28,"y":1.44},{"n":"20.5","x":0.31,"y":0.98},{"n":"20.5","x":0.34,"y":0.45},{"n":"20.5","x":0.373,"y":0},{"n":"20.5","x":0.41,"y":-0.53},{"n":"20.5","x":0.45,"y":-1.07},{"n":"20.5","x":0.5,"y":-1.52},{"n":"20.5","x":0.56,"y":-1.75},{"n":"20.5","x":0.62,"y":-1.6},{"n":"20.5","x":0.68,"y":-1.19},{"n":"20.5","x":0.74,"y":-0.78},{"n":"20.5","x":0.8,"y":-0.45},{"n":"20.5","x":0.86,"y":-0.21},{"n":"20.5","x":0.92,"y":-0.06},{"n":"20.5","x":1,"y":0},
{"n":"18","x":0,"y":0},{"n":"18","x":0.08,"y":0},{"n":"18","x":0.11,"y":0.07},{"n":"18","x":0.14,"y":0.36},{"n":"18","x":0.17,"y":0.79},{"n":"18","x":0.2,"y":1.19},{"n":"18","x":0.24,"y":1.46},{"n":"18","x":0.28,"y":1.26},{"n":"18","x":0.31,"y":0.86},{"n":"18","x":0.34,"y":0.4},{"n":"18","x":0.373,"y":0},{"n":"18","x":0.41,"y":-0.47},{"n":"18","x":0.45,"y":-0.94},{"n":"18","x":0.5,"y":-1.33},{"n":"18","x":0.56,"y":-1.54},{"n":"18","x":0.62,"y":-1.4},{"n":"18","x":0.68,"y":-1.04},{"n":"18","x":0.74,"y":-0.68},{"n":"18","x":0.8,"y":-0.4},{"n":"18","x":0.86,"y":-0.18},{"n":"18","x":0.92,"y":-0.05},{"n":"18","x":1,"y":0},
{"n":"16","x":0,"y":0},{"n":"16","x":0.08,"y":0},{"n":"16","x":0.11,"y":0.06},{"n":"16","x":0.14,"y":0.32},{"n":"16","x":0.17,"y":0.7},{"n":"16","x":0.2,"y":1.06},{"n":"16","x":0.24,"y":1.3},{"n":"16","x":0.28,"y":1.12},{"n":"16","x":0.31,"y":0.77},{"n":"16","x":0.34,"y":0.35},{"n":"16","x":0.373,"y":0},{"n":"16","x":0.41,"y":-0.42},{"n":"16","x":0.45,"y":-0.83},{"n":"16","x":0.5,"y":-1.18},{"n":"16","x":0.56,"y":-1.37},{"n":"16","x":0.62,"y":-1.25},{"n":"16","x":0.68,"y":-0.93},{"n":"16","x":0.74,"y":-0.61},{"n":"16","x":0.8,"y":-0.35},{"n":"16","x":0.86,"y":-0.16},{"n":"16","x":0.92,"y":-0.04},{"n":"16","x":1,"y":0},
{"n":"12","x":0,"y":0},{"n":"12","x":0.08,"y":0},{"n":"12","x":0.11,"y":0.05},{"n":"12","x":0.14,"y":0.24},{"n":"12","x":0.17,"y":0.53},{"n":"12","x":0.2,"y":0.79},{"n":"12","x":0.24,"y":0.97},{"n":"12","x":0.28,"y":0.84},{"n":"12","x":0.31,"y":0.58},{"n":"12","x":0.34,"y":0.26},{"n":"12","x":0.373,"y":0},{"n":"12","x":0.41,"y":-0.31},{"n":"12","x":0.45,"y":-0.62},{"n":"12","x":0.5,"y":-0.89},{"n":"12","x":0.56,"y":-1.03},{"n":"12","x":0.62,"y":-0.94},{"n":"12","x":0.68,"y":-0.7},{"n":"12","x":0.74,"y":-0.46},{"n":"12","x":0.8,"y":-0.26},{"n":"12","x":0.86,"y":-0.12},{"n":"12","x":0.92,"y":-0.03},{"n":"12","x":1,"y":0},
{"n":"9.6","x":0,"y":0},{"n":"9.6","x":0.08,"y":0},{"n":"9.6","x":0.11,"y":0.04},{"n":"9.6","x":0.14,"y":0.19},{"n":"9.6","x":0.17,"y":0.42},{"n":"9.6","x":0.2,"y":0.63},{"n":"9.6","x":0.24,"y":0.78},{"n":"9.6","x":0.28,"y":0.67},{"n":"9.6","x":0.31,"y":0.46},{"n":"9.6","x":0.34,"y":0.21},{"n":"9.6","x":0.373,"y":0},{"n":"9.6","x":0.41,"y":-0.25},{"n":"9.6","x":0.45,"y":-0.5},{"n":"9.6","x":0.5,"y":-0.71},{"n":"9.6","x":0.56,"y":-0.82},{"n":"9.6","x":0.62,"y":-0.75},{"n":"9.6","x":0.68,"y":-0.56},{"n":"9.6","x":0.74,"y":-0.36},{"n":"9.6","x":0.8,"y":-0.21},{"n":"9.6","x":0.86,"y":-0.1},{"n":"9.6","x":0.92,"y":-0.03},{"n":"9.6","x":1,"y":0},
{"n":"6.4","x":0,"y":0},{"n":"6.4","x":0.08,"y":0},{"n":"6.4","x":0.11,"y":0.03},{"n":"6.4","x":0.14,"y":0.13},{"n":"6.4","x":0.17,"y":0.28},{"n":"6.4","x":0.2,"y":0.42},{"n":"6.4","x":0.24,"y":0.52},{"n":"6.4","x":0.28,"y":0.45},{"n":"6.4","x":0.31,"y":0.31},{"n":"6.4","x":0.34,"y":0.14},{"n":"6.4","x":0.373,"y":0},{"n":"6.4","x":0.41,"y":-0.17},{"n":"6.4","x":0.45,"y":-0.33},{"n":"6.4","x":0.5,"y":-0.47},{"n":"6.4","x":0.56,"y":-0.55},{"n":"6.4","x":0.62,"y":-0.5},{"n":"6.4","x":0.68,"y":-0.37},{"n":"6.4","x":0.74,"y":-0.24},{"n":"6.4","x":0.8,"y":-0.14},{"n":"6.4","x":0.86,"y":-0.06},{"n":"6.4","x":0.92,"y":-0.02},{"n":"6.4","x":1,"y":0}
],
"p6":[
{"n":"25","x":0,"y":0},{"n":"25","x":0.15,"y":0},{"n":"25","x":0.19,"y":0.05},{"n":"25","x":0.22,"y":0.17},{"n":"25","x":0.25,"y":0.27},{"n":"25","x":0.28,"y":0.18},{"n":"25","x":0.305,"y":0},{"n":"25","x":0.34,"y":-0.5},{"n":"25","x":0.38,"y":-1.3},{"n":"25","x":0.43,"y":-2.2},{"n":"25","x":0.48,"y":-2.78},{"n":"25","x":0.53,"y":-3},{"n":"25","x":0.567,"y":-3.04},{"n":"25","x":0.62,"y":-2.9},{"n":"25","x":0.68,"y":-2.45},{"n":"25","x":0.74,"y":-1.9},{"n":"25","x":0.8,"y":-1.25},{"n":"25","x":0.86,"y":-0.62},{"n":"25","x":0.92,"y":-0.2},{"n":"25","x":0.98,"y":0},
{"n":"22.5","x":0,"y":0},{"n":"22.5","x":0.15,"y":0},{"n":"22.5","x":0.19,"y":0.05},{"n":"22.5","x":0.22,"y":0.15},{"n":"22.5","x":0.25,"y":0.24},{"n":"22.5","x":0.28,"y":0.16},{"n":"22.5","x":0.305,"y":0},{"n":"22.5","x":0.34,"y":-0.45},{"n":"22.5","x":0.38,"y":-1.17},{"n":"22.5","x":0.43,"y":-1.98},{"n":"22.5","x":0.48,"y":-2.5},{"n":"22.5","x":0.53,"y":-2.7},{"n":"22.5","x":0.567,"y":-2.74},{"n":"22.5","x":0.62,"y":-2.61},{"n":"22.5","x":0.68,"y":-2.21},{"n":"22.5","x":0.74,"y":-1.71},{"n":"22.5","x":0.8,"y":-1.13},{"n":"22.5","x":0.86,"y":-0.56},{"n":"22.5","x":0.92,"y":-0.18},{"n":"22.5","x":0.98,"y":0},
{"n":"20.5","x":0,"y":0},{"n":"20.5","x":0.15,"y":0},{"n":"20.5","x":0.19,"y":0.04},{"n":"20.5","x":0.22,"y":0.14},{"n":"20.5","x":0.25,"y":0.22},{"n":"20.5","x":0.28,"y":0.15},{"n":"20.5","x":0.305,"y":0},{"n":"20.5","x":0.34,"y":-0.41},{"n":"20.5","x":0.38,"y":-1.07},{"n":"20.5","x":0.43,"y":-1.8},{"n":"20.5","x":0.48,"y":-2.28},{"n":"20.5","x":0.53,"y":-2.46},{"n":"20.5","x":0.567,"y":-2.49},{"n":"20.5","x":0.62,"y":-2.38},{"n":"20.5","x":0.68,"y":-2.01},{"n":"20.5","x":0.74,"y":-1.56},{"n":"20.5","x":0.8,"y":-1.03},{"n":"20.5","x":0.86,"y":-0.51},{"n":"20.5","x":0.92,"y":-0.16},{"n":"20.5","x":0.98,"y":0},
{"n":"18","x":0,"y":0},{"n":"18","x":0.15,"y":0},{"n":"18","x":0.19,"y":0.04},{"n":"18","x":0.22,"y":0.12},{"n":"18","x":0.25,"y":0.19},{"n":"18","x":0.28,"y":0.13},{"n":"18","x":0.305,"y":0},{"n":"18","x":0.34,"y":-0.36},{"n":"18","x":0.38,"y":-0.94},{"n":"18","x":0.43,"y":-1.58},{"n":"18","x":0.48,"y":-2},{"n":"18","x":0.53,"y":-2.16},{"n":"18","x":0.567,"y":-2.19},{"n":"18","x":0.62,"y":-2.09},{"n":"18","x":0.68,"y":-1.76},{"n":"18","x":0.74,"y":-1.37},{"n":"18","x":0.8,"y":-0.9},{"n":"18","x":0.86,"y":-0.45},{"n":"18","x":0.92,"y":-0.14},{"n":"18","x":0.98,"y":0},
{"n":"16","x":0,"y":0},{"n":"16","x":0.15,"y":0},{"n":"16","x":0.19,"y":0.03},{"n":"16","x":0.22,"y":0.11},{"n":"16","x":0.25,"y":0.17},{"n":"16","x":0.28,"y":0.12},{"n":"16","x":0.305,"y":0},{"n":"16","x":0.34,"y":-0.32},{"n":"16","x":0.38,"y":-0.83},{"n":"16","x":0.43,"y":-1.41},{"n":"16","x":0.48,"y":-1.78},{"n":"16","x":0.53,"y":-1.92},{"n":"16","x":0.567,"y":-1.95},{"n":"16","x":0.62,"y":-1.86},{"n":"16","x":0.68,"y":-1.57},{"n":"16","x":0.74,"y":-1.22},{"n":"16","x":0.8,"y":-0.8},{"n":"16","x":0.86,"y":-0.4},{"n":"16","x":0.92,"y":-0.13},{"n":"16","x":0.98,"y":0},
{"n":"12","x":0,"y":0},{"n":"12","x":0.15,"y":0},{"n":"12","x":0.19,"y":0.02},{"n":"12","x":0.22,"y":0.08},{"n":"12","x":0.25,"y":0.13},{"n":"12","x":0.28,"y":0.09},{"n":"12","x":0.305,"y":0},{"n":"12","x":0.34,"y":-0.24},{"n":"12","x":0.38,"y":-0.62},{"n":"12","x":0.43,"y":-1.06},{"n":"12","x":0.48,"y":-1.33},{"n":"12","x":0.53,"y":-1.44},{"n":"12","x":0.567,"y":-1.46},{"n":"12","x":0.62,"y":-1.39},{"n":"12","x":0.68,"y":-1.18},{"n":"12","x":0.74,"y":-0.91},{"n":"12","x":0.8,"y":-0.6},{"n":"12","x":0.86,"y":-0.3},{"n":"12","x":0.92,"y":-0.1},{"n":"12","x":0.98,"y":0},
{"n":"9.6","x":0,"y":0},{"n":"9.6","x":0.15,"y":0},{"n":"9.6","x":0.19,"y":0.02},{"n":"9.6","x":0.22,"y":0.07},{"n":"9.6","x":0.25,"y":0.1},{"n":"9.6","x":0.28,"y":0.07},{"n":"9.6","x":0.305,"y":0},{"n":"9.6","x":0.34,"y":-0.19},{"n":"9.6","x":0.38,"y":-0.5},{"n":"9.6","x":0.43,"y":-0.84},{"n":"9.6","x":0.48,"y":-1.07},{"n":"9.6","x":0.53,"y":-1.15},{"n":"9.6","x":0.567,"y":-1.17},{"n":"9.6","x":0.62,"y":-1.11},{"n":"9.6","x":0.68,"y":-0.94},{"n":"9.6","x":0.74,"y":-0.73},{"n":"9.6","x":0.8,"y":-0.48},{"n":"9.6","x":0.86,"y":-0.24},{"n":"9.6","x":0.92,"y":-0.08},{"n":"9.6","x":0.98,"y":0},
{"n":"6.4","x":0,"y":0},{"n":"6.4","x":0.15,"y":0},{"n":"6.4","x":0.19,"y":0.01},{"n":"6.4","x":0.22,"y":0.04},{"n":"6.4","x":0.25,"y":0.07},{"n":"6.4","x":0.28,"y":0.05},{"n":"6.4","x":0.305,"y":0},{"n":"6.4","x":0.34,"y":-0.13},{"n":"6.4","x":0.38,"y":-0.33},{"n":"6.4","x":0.43,"y":-0.56},{"n":"6.4","x":0.48,"y":-0.71},{"n":"6.4","x":0.53,"y":-0.77},{"n":"6.4","x":0.567,"y":-0.78},{"n":"6.4","x":0.62,"y":-0.74},{"n":"6.4","x":0.68,"y":-0.63},{"n":"6.4","x":0.74,"y":-0.49},{"n":"6.4","x":0.8,"y":-0.32},{"n":"6.4","x":0.86,"y":-0.16},{"n":"6.4","x":0.92,"y":-0.05},{"n":"6.4","x":0.98,"y":0}
]
},
"columns":3,
"spacing":{"row":57,"column":32},
"bounds":"flush",
"concat":[
{"width":262,"height":260,
 "title":{"text":"[ ×10⁻⁴]","anchor":"start","frame":"group","fontSize":15,"fontWeight":"normal","offset":2,"color":"#1a1a1a"},
 "resolve":{"axis":{"x":"independent","y":"independent"}},
 "layer":[
  {"data":{"values":[{"z":0}]},"mark":{"type":"rule","strokeDash":[6,4],"color":"#111","strokeWidth":1},"encoding":{"y":{"field":"z","type":"quantitative","scale":{"domain":[-5,20],"nice":false},"axis":null}}},
  {"data":{"name":"p1"},"mark":{"type":"line"},"encoding":{
   "x":{"field":"x","type":"quantitative","scale":{"domain":[0,1],"nice":false,"zero":false},"axis":{"values":[0,0.2,0.4,0.6,0.8,1],"title":"ω/|Ωₑ|","titlePadding":7,"labelPadding":4}},
   "y":{"field":"y","type":"quantitative","scale":{"domain":[-5,20],"nice":false},"axis":{"values":[-5,0,5,10,15,20],"title":"Linear growth rate ωᵢ / |Ωₑ|","titlePadding":8,"labelBaseline":{"condition":{"test":"datum.value==20","value":"top"},"value":"middle"}}},
   "color":{"field":"n","type":"nominal","scale":{"domain":["25","22.5","20.5","18","16","12","9.6","6.4"],"range":["#000000","#ec1c24","#6abd45","#b557a8","#2e4a9e","#f5ea14","#67c7dd","#f8a868"]},
    "legend":{"orient":"none","legendX":176,"legendY":632,"columns":4,"title":"Nₕ/N₀ =","titleOrient":"left","titleAnchor":"middle","titleFontSize":16,"titleFontWeight":"normal","titleFont":"Liberation Serif","titleColor":"#1a1a1a","titlePadding":3,"symbolType":"stroke","symbolSize":1089,"symbolStrokeWidth":3,"labelFontSize":16,"labelFont":"Liberation Serif","labelColor":"#1a1a1a","labelOffset":5,"labelLimit":200,"labelExpr":"(datum.label == '20.5' || datum.label == '9.6' || datum.label == '6.4') ? datum.label + '×10⁻⁴' : datum.label + ' ×10⁻⁴'","columnPadding":9,"rowPadding":-11}}}},
  {"data":{"values":[{"t":"= 0.004"}]},"mark":{"type":"text","align":"right","baseline":"middle","fontSize":19},"encoding":{
   "x":{"datum":0.962,"type":"quantitative","scale":{"domain":[0,1],"nice":false},"axis":{"orient":"top","labels":false,"title":null,"values":[0,0.2,0.4,0.6,0.8,1]}},
   "y":{"datum":18.37,"type":"quantitative","scale":{"domain":[-5,20],"nice":false},"axis":{"orient":"right","labels":false,"title":null,"values":[-5,0,5,10,15,20]}},
   "text":{"field":"t"}}},
  {"data":{"values":[{"t":"a"}]},"mark":{"type":"text","align":"right","baseline":"middle","fontSize":19,"fontStyle":"italic"},"encoding":{
   "x":{"datum":0.71,"type":"quantitative","scale":{"domain":[0,1],"nice":false},"axis":null},
   "y":{"datum":18.37,"type":"quantitative","scale":{"domain":[-5,20],"nice":false},"axis":null},
   "text":{"field":"t"}}}
 ]},
{"width":262,"height":260,
 "title":{"text":"[ ×10⁻⁴]","anchor":"start","frame":"group","fontSize":15,"fontWeight":"normal","offset":2,"color":"#1a1a1a"},
 "resolve":{"axis":{"x":"independent","y":"independent"}},
 "layer":[
  {"data":{"values":[{"z":0}]},"mark":{"type":"rule","strokeDash":[6,4],"color":"#111","strokeWidth":1},"encoding":{"y":{"field":"z","type":"quantitative","scale":{"domain":[-5,20],"nice":false},"axis":null}}},
  {"data":{"name":"p2"},"mark":{"type":"line"},"encoding":{
   "x":{"field":"x","type":"quantitative","scale":{"domain":[0,1],"nice":false,"zero":false},"axis":{"values":[0,0.2,0.4,0.6,0.8,1],"title":"ω/|Ωₑ|","titlePadding":7,"labelPadding":4}},
   "y":{"field":"y","type":"quantitative","scale":{"domain":[-5,20],"nice":false},"axis":{"values":[-5,0,5,10,15,20],"title":null,"labelBaseline":{"condition":{"test":"datum.value==20","value":"top"},"value":"middle"}}},
   "color":{"field":"n","type":"nominal","scale":{"domain":["25","22.5","20.5","18","16","12","9.6","6.4"],"range":["#000000","#ec1c24","#6abd45","#b557a8","#2e4a9e","#f5ea14","#67c7dd","#f8a868"]},"legend":null}}},
  {"data":{"values":[{"t":"= 0.01"}]},"mark":{"type":"text","align":"right","baseline":"middle","fontSize":19},"encoding":{
   "x":{"datum":0.966,"type":"quantitative","scale":{"domain":[0,1],"nice":false},"axis":{"orient":"top","labels":false,"title":null,"values":[0,0.2,0.4,0.6,0.8,1]}},
   "y":{"datum":18.3,"type":"quantitative","scale":{"domain":[-5,20],"nice":false},"axis":{"orient":"right","labels":false,"title":null,"values":[-5,0,5,10,15,20]}},
   "text":{"field":"t"}}},
  {"data":{"values":[{"t":"a"}]},"mark":{"type":"text","align":"right","baseline":"middle","fontSize":19,"fontStyle":"italic"},"encoding":{
   "x":{"datum":0.76,"type":"quantitative","scale":{"domain":[0,1],"nice":false},"axis":null},
   "y":{"datum":18.3,"type":"quantitative","scale":{"domain":[-5,20],"nice":false},"axis":null},
   "text":{"field":"t"}}}
 ]},
{"width":255,"height":260,
 "title":{"text":"[ ×10⁻⁴]","anchor":"start","frame":"group","fontSize":15,"fontWeight":"normal","offset":2,"color":"#1a1a1a"},
 "resolve":{"axis":{"x":"independent","y":"independent"}},
 "layer":[
  {"data":{"values":[{"z":0}]},"mark":{"type":"rule","strokeDash":[6,4],"color":"#111","strokeWidth":1},"encoding":{"y":{"field":"z","type":"quantitative","scale":{"domain":[-2,10],"nice":false},"axis":null}}},
  {"data":{"name":"p3"},"mark":{"type":"line"},"encoding":{
   "x":{"field":"x","type":"quantitative","scale":{"domain":[0,0.98],"nice":false,"zero":false},"axis":{"values":[0,0.2,0.4,0.6,0.8],"title":"ω/|Ωₑ|","titlePadding":7,"labelPadding":4}},
   "y":{"field":"y","type":"quantitative","scale":{"domain":[-2,10],"nice":false},"axis":{"values":[-2,0,2,4,6,8,10],"title":null,"labelBaseline":{"condition":{"test":"datum.value==10","value":"top"},"value":"middle"}}},
   "color":{"field":"n","type":"nominal","scale":{"domain":["25","22.5","20.5","18","16","12","9.6","6.4"],"range":["#000000","#ec1c24","#6abd45","#b557a8","#2e4a9e","#f5ea14","#67c7dd","#f8a868"]},"legend":null}}},
  {"data":{"values":[{"t":"= 0.0625"}]},"mark":{"type":"text","align":"right","baseline":"middle","fontSize":19},"encoding":{
   "x":{"datum":0.961,"type":"quantitative","scale":{"domain":[0,0.98],"nice":false},"axis":{"orient":"top","labels":false,"title":null,"values":[0,0.2,0.4,0.6,0.8]}},
   "y":{"datum":9.17,"type":"quantitative","scale":{"domain":[-2,10],"nice":false},"axis":{"orient":"right","labels":false,"title":null,"values":[-2,0,2,4,6,8,10]}},
   "text":{"field":"t"}}},
  {"data":{"values":[{"t":"a"}]},"mark":{"type":"text","align":"right","baseline":"middle","fontSize":19,"fontStyle":"italic"},"encoding":{
   "x":{"datum":0.678,"type":"quantitative","scale":{"domain":[0,0.98],"nice":false},"axis":null},
   "y":{"datum":9.17,"type":"quantitative","scale":{"domain":[-2,10],"nice":false},"axis":null},
   "text":{"field":"t"}}}
 ]},
{"width":262,"height":260,
 "title":{"text":"[ ×10⁻⁴]","anchor":"start","frame":"group","fontSize":15,"fontWeight":"normal","offset":2,"color":"#1a1a1a"},
 "resolve":{"axis":{"x":"independent","y":"independent"}},
 "layer":[
  {"data":{"values":[{"z":0}]},"mark":{"type":"rule","strokeDash":[6,4],"color":"#111","strokeWidth":1},"encoding":{"y":{"field":"z","type":"quantitative","scale":{"domain":[-2,8],"nice":false},"axis":null}}},
  {"data":{"name":"p4"},"mark":{"type":"line"},"encoding":{
   "x":{"field":"x","type":"quantitative","scale":{"domain":[0,1],"nice":false,"zero":false},"axis":{"values":[0,0.2,0.4,0.6,0.8,1],"title":"ω/|Ωₑ|","titlePadding":13,"labelPadding":10}},
   "y":{"field":"y","type":"quantitative","scale":{"domain":[-2,8],"nice":false},"axis":{"values":[-2,0,2,4,6,8],"title":"Linear growth rate ωᵢ / |Ωₑ|","titlePadding":8,"labelBaseline":{"condition":{"test":"datum.value==8","value":"top"},"value":"middle"}}},
   "color":{"field":"n","type":"nominal","scale":{"domain":["25","22.5","20.5","18","16","12","9.6","6.4"],"range":["#000000","#ec1c24","#6abd45","#b557a8","#2e4a9e","#f5ea14","#67c7dd","#f8a868"]},"legend":null}}},
  {"data":{"values":[{"t":"= 0.10"}]},"mark":{"type":"text","align":"right","baseline":"middle","fontSize":19},"encoding":{
   "x":{"datum":0.954,"type":"quantitative","scale":{"domain":[0,1],"nice":false},"axis":{"orient":"top","labels":false,"title":null,"values":[0,0.2,0.4,0.6,0.8,1]}},
   "y":{"datum":7.27,"type":"quantitative","scale":{"domain":[-2,8],"nice":false},"axis":{"orient":"right","labels":false,"title":null,"values":[-2,0,2,4,6,8]}},
   "text":{"field":"t"}}},
  {"data":{"values":[{"t":"a"}]},"mark":{"type":"text","align":"right","baseline":"middle","fontSize":19,"fontStyle":"italic"},"encoding":{
   "x":{"datum":0.741,"type":"quantitative","scale":{"domain":[0,1],"nice":false},"axis":null},
   "y":{"datum":7.27,"type":"quantitative","scale":{"domain":[-2,8],"nice":false},"axis":null},
   "text":{"field":"t"}}}
 ]},
{"width":262,"height":260,
 "title":{"text":"[ ×10⁻⁴]","anchor":"start","frame":"group","fontSize":15,"fontWeight":"normal","offset":2,"color":"#1a1a1a"},
 "resolve":{"axis":{"x":"independent","y":"independent"}},
 "layer":[
  {"data":{"values":[{"z":0}]},"mark":{"type":"rule","strokeDash":[6,4],"color":"#111","strokeWidth":1},"encoding":{"y":{"field":"z","type":"quantitative","scale":{"domain":[-4,6],"nice":false},"axis":null}}},
  {"data":{"name":"p5"},"mark":{"type":"line"},"encoding":{
   "x":{"field":"x","type":"quantitative","scale":{"domain":[0,1],"nice":false,"zero":false},"axis":{"values":[0,0.2,0.4,0.6,0.8,1],"title":"ω/|Ωₑ|","titlePadding":13,"labelPadding":10}},
   "y":{"field":"y","type":"quantitative","scale":{"domain":[-4,6],"nice":false},"axis":{"values":[-4,-2,0,2,4,6],"title":null,"labelBaseline":{"condition":{"test":"datum.value==6","value":"top"},"value":"middle"}}},
   "color":{"field":"n","type":"nominal","scale":{"domain":["25","22.5","20.5","18","16","12","9.6","6.4"],"range":["#000000","#ec1c24","#6abd45","#b557a8","#2e4a9e","#f5ea14","#67c7dd","#f8a868"]},"legend":null}}},
  {"data":{"values":[{"t":"= 0.25"}]},"mark":{"type":"text","align":"right","baseline":"middle","fontSize":19},"encoding":{
   "x":{"datum":0.954,"type":"quantitative","scale":{"domain":[0,1],"nice":false},"axis":{"orient":"top","labels":false,"title":null,"values":[0,0.2,0.4,0.6,0.8,1]}},
   "y":{"datum":5.23,"type":"quantitative","scale":{"domain":[-4,6],"nice":false},"axis":{"orient":"right","labels":false,"title":null,"values":[-4,-2,0,2,4,6]}},
   "text":{"field":"t"}}},
  {"data":{"values":[{"t":"a"}]},"mark":{"type":"text","align":"right","baseline":"middle","fontSize":19,"fontStyle":"italic"},"encoding":{
   "x":{"datum":0.74,"type":"quantitative","scale":{"domain":[0,1],"nice":false},"axis":null},
   "y":{"datum":5.23,"type":"quantitative","scale":{"domain":[-4,6],"nice":false},"axis":null},
   "text":{"field":"t"}}}
 ]},
{"width":255,"height":260,
 "title":{"text":"[ ×10⁻⁴]","anchor":"start","frame":"group","fontSize":15,"fontWeight":"normal","offset":2,"color":"#1a1a1a"},
 "resolve":{"axis":{"x":"independent","y":"independent"}},
 "layer":[
  {"data":{"values":[{"z":0}]},"mark":{"type":"rule","strokeDash":[6,4],"color":"#111","strokeWidth":1},"encoding":{"y":{"field":"z","type":"quantitative","scale":{"domain":[-4,2],"nice":false},"axis":null}}},
  {"data":{"name":"p6"},"mark":{"type":"line"},"encoding":{
   "x":{"field":"x","type":"quantitative","scale":{"domain":[0,0.98],"nice":false,"zero":false},"axis":{"values":[0,0.2,0.4,0.6,0.8],"title":"ω/|Ωₑ|","titlePadding":13,"labelPadding":10}},
   "y":{"field":"y","type":"quantitative","scale":{"domain":[-4,2],"nice":false},"axis":{"values":[-4,-3,-2,-1,0,1,2],"title":null,"labelBaseline":{"condition":{"test":"datum.value==2","value":"top"},"value":"middle"}}},
   "color":{"field":"n","type":"nominal","scale":{"domain":["25","22.5","20.5","18","16","12","9.6","6.4"],"range":["#000000","#ec1c24","#6abd45","#b557a8","#2e4a9e","#f5ea14","#67c7dd","#f8a868"]},"legend":null}}},
  {"data":{"values":[{"t":"= 0.64"}]},"mark":{"type":"text","align":"right","baseline":"middle","fontSize":19},"encoding":{
   "x":{"datum":0.957,"type":"quantitative","scale":{"domain":[0,0.98],"nice":false},"axis":{"orient":"top","labels":false,"title":null,"values":[0,0.2,0.4,0.6,0.8]}},
   "y":{"datum":1.52,"type":"quantitative","scale":{"domain":[-4,2],"nice":false},"axis":{"orient":"right","labels":false,"title":null,"values":[-4,-3,-2,-1,0,1,2]}},
   "text":{"field":"t"}}},
  {"data":{"values":[{"t":"a"}]},"mark":{"type":"text","align":"right","baseline":"middle","fontSize":19,"fontStyle":"italic"},"encoding":{
   "x":{"datum":0.743,"type":"quantitative","scale":{"domain":[0,0.98],"nice":false},"axis":null},
   "y":{"datum":1.52,"type":"quantitative","scale":{"domain":[-4,2],"nice":false},"axis":null},
   "text":{"field":"t"}}}
 ]}
]
}
